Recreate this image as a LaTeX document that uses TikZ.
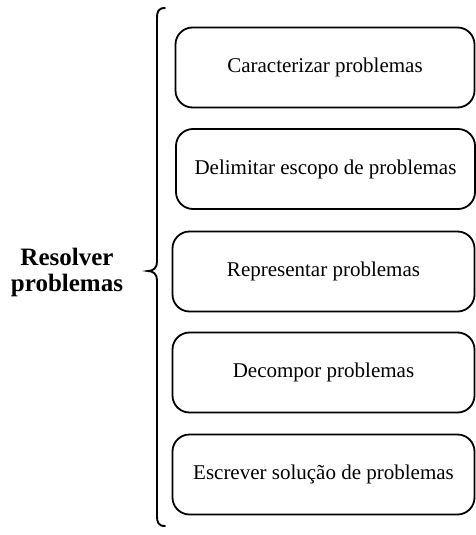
\documentclass[tikz,border=0pt]{standalone}
\usepackage{fontspec}
\setmainfont{Liberation Serif}
\begin{document}
\begin{tikzpicture}[x=1pt,y=-1pt,
  box/.style={draw, line width=1.8pt, rounded corners=17pt, minimum height=80pt, inner sep=0pt, font=\fontsize{21}{25}\selectfont},
  brace/.style={draw, line width=1.9pt, line cap=round},
  lbl/.style={font=\fontsize{25}{26}\selectfont\bfseries, align=center, inner sep=0pt}]
\useasboundingbox (0,0) rectangle (476,535);
\node[box, minimum width=299pt] (b1) at (325,67.5) {Caracterizar problemas};
\node[box, minimum width=299pt] (b2) at (325.5,169) {Delimitar escopo de problemas};
\node[box, minimum width=302pt] (b3) at (323.5,271.5) {Representar problemas};
\node[box, minimum width=302pt] (b4) at (323.5,372.5) {Decompor problemas};
\node[box, minimum width=302pt] (b5) at (323.5,474.5) {Escrever solução de problemas};
\node[lbl] (t) at (67,272) {Resolver\\problemas};
\coordinate (bt) at (165,8);
\coordinate (bm) at (148,271);
\coordinate (bb) at (165,526);
\draw[brace] (bt) .. controls (158,8) and (157,12) .. (157,18) -- (157,262)
  .. controls (157,268) and (153,271) .. (bm)
  .. controls (153,271) and (157,274) .. (157,280) -- (157,516)
  .. controls (157,522) and (158,526) .. (bb);
\end{tikzpicture}
\end{document}
